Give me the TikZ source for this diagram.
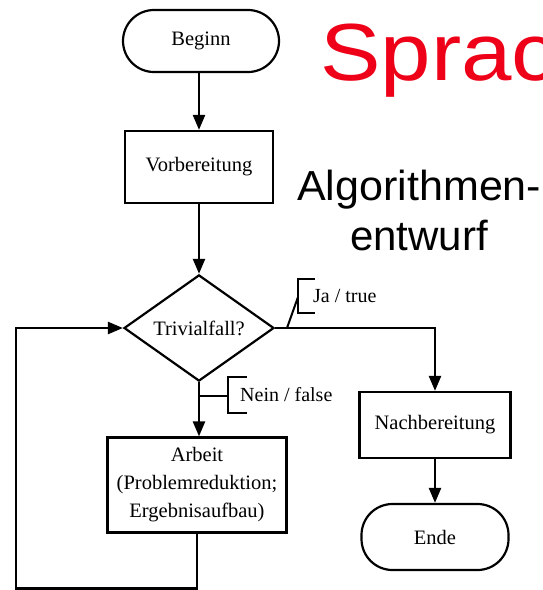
\documentclass[tikz,border=0pt]{standalone}
\usepackage{fontspec}
\setmainfont{Liberation Serif}
\newfontfamily\headfont{Liberation Sans}
\usetikzlibrary{arrows.meta,shapes.geometric}
\definecolor{titlered}{RGB}{238,0,24}
\tikzset{
  x=1pt, y=-1pt,
  chartfont/.style={font=\fontsize{20.5}{28}\selectfont},
  flow/.style={line width=2.3pt, -{Triangle[length=15pt,width=12pt]}},
  wire/.style={line width=2pt},
  procbox/.style={draw, line width=2.2pt, rectangle, align=center, inner sep=0pt, chartfont},
  termbox/.style={draw, line width=2.2pt, rectangle, rounded corners=31pt, inner sep=0pt, chartfont},
  decision/.style={draw, line width=2.2pt, diamond, inner sep=0pt, chartfont},
  branchlabel/.style={anchor=west, inner sep=0pt, font=\fontsize{20}{24}\selectfont},
  headline/.style={anchor=base west, inner sep=0pt, font=\headfont\fontsize{42}{48}\selectfont},
  redtitle/.style={anchor=base west, inner sep=0pt, text=titlered, xscale=1.12,
                   font=\headfont\fontsize{81}{96}\selectfont}
}
\begin{document}
\begin{tikzpicture}
  \useasboundingbox (0,0) rectangle (543,590);
  \clip (0,0) rectangle (543,590);

  % heading text on the right
  \node[redtitle] (titleg) at (427,-20) {g};
  \node[redtitle] (sprache) at (320,80) {Sprache};
  \node[headline, xscale=1.025] (algo) at (297,200) {Algorithmen-};
  \node[headline] (entw) at (350,250) {entwurf};

  % flow chart
  \node[termbox, minimum width=156pt, minimum height=62pt] (begin) at (201,41) {Beginn};
  \node[procbox, minimum width=148pt, minimum height=72pt] (prep) at (199,167) {Vorbereitung};
  \node[decision, minimum width=150pt, minimum height=90pt] (test) at (199,328) {Trivialfall?};
  \node[procbox, minimum width=179pt, minimum height=95pt] (work) at (197,485)
       {Arbeit\\(Problemreduktion;\\Ergebnisaufbau)};
  \node[procbox, minimum width=151pt, minimum height=66pt] (post) at (435,425) {Nachbereitung};
  \node[termbox, minimum width=147pt, minimum height=66pt] (finish) at (435,537) {Ende};

  \coordinate (loopcorner) at (16,588.5);

  \draw[flow] (begin.south -| prep.north) -- (prep.north);
  \draw[flow] (prep.south) -- (test.north);
  \draw[flow] (test.south) -- (test.south |- work.north);
  \draw[flow] (test.east) -| (post.north);
  \draw[flow] (post.south) -- (finish.north);
  \draw[flow] (work.south) |- (loopcorner) |- (test.west);

  % branch labels with brackets
  \coordinate (jafoot) at (287,328);
  \coordinate (jamid) at (298,297);
  \draw[wire] (jafoot) -- (jamid);
  \draw[wire] (315,279) -- (298,279) -- (298,313) -- (315,313);
  \node[branchlabel] (ja) at (313,296) {Ja / true};

  \coordinate (neinfoot) at (199,396);
  \coordinate (neinmid) at (228,396);
  \draw[wire] (neinfoot) -- (neinmid);
  \draw[wire] (247,377) -- (228,377) -- (228,413) -- (247,413);
  \node[branchlabel] (nein) at (240,395) {Nein / false};
\end{tikzpicture}
\end{document}
